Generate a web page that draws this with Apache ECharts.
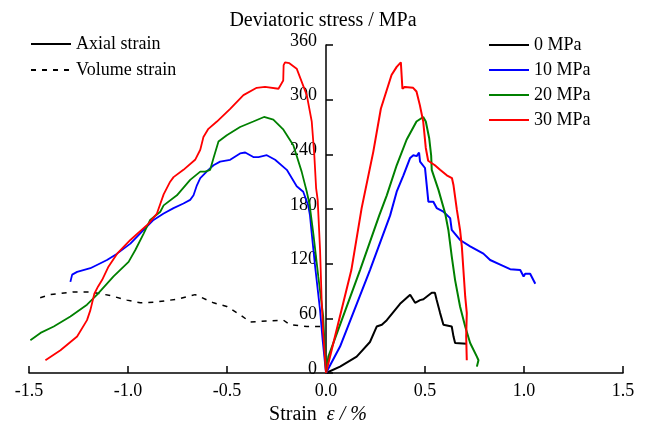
<!DOCTYPE html>
<html>
<head>
<meta charset="utf-8">
<script src="https://cdn.jsdelivr.net/npm/echarts@6/dist/echarts.min.js"></script>
<style>
  html, body { margin: 0; padding: 0; background: #fff; }
  #chart { width: 646px; height: 425px; }
</style>
</head>
<body>
<div id="chart"></div>
<script>
var FONT = "'Liberation Serif', 'Times New Roman', serif";

var pressures = ["0 MPa", "10 MPa", "20 MPa", "30 MPa"];
var colors = ["#000000", "#0000ff", "#008000", "#ff0000"];
var strainKinds = ["Axial strain", "Volume strain"];

// axial strain branch (positive x), [strain %, stress MPa]
var axial0 = [[0,0],[0.071,7],[0.155,18],[0.222,34],[0.256,51],[0.282,53],[0.307,58],[0.374,76],[0.425,86],[0.45,77],[0.475,80],[0.492,81],[0.534,88],[0.542,89],[0.55,88],[0.559,80],[0.576,66],[0.593,53],[0.635,51],[0.644,40],[0.652,33],[0.711,32]];
var axial10 = [[0,0],[0.071,29],[0.222,113],[0.324,173],[0.357,199],[0.391,217],[0.425,236],[0.441,239],[0.458,238],[0.47,242],[0.475,232],[0.5,225],[0.517,188],[0.542,188],[0.559,181],[0.593,177],[0.627,170],[0.635,157],[0.677,146],[0.728,139],[0.795,131],[0.829,124],[0.88,119],[0.93,114],[0.981,113],[0.998,106],[1.006,109],[1.031,109],[1.057,98]];
var axial20 = [[0,0],[0.012,18],[0.172,113],[0.269,173],[0.307,195],[0.357,228],[0.407,256],[0.457,276],[0.491,281],[0.504,276],[0.521,258],[0.531,239],[0.534,223],[0.568,201],[0.602,175],[0.618,157],[0.635,128],[0.652,102],[0.677,73],[0.703,51],[0.728,33],[0.762,18],[0.77,14],[0.762,7]];
var axial30 = [[0,0],[0.128,113],[0.18,181],[0.239,243],[0.277,290],[0.331,327],[0.357,336],[0.378,341],[0.384,341],[0.386,312],[0.398,314],[0.44,313],[0.457,309],[0.474,294],[0.491,276],[0.504,247],[0.516,233],[0.55,228],[0.576,223],[0.61,217],[0.636,214],[0.644,206],[0.661,179],[0.677,157],[0.686,139],[0.694,113],[0.703,84],[0.711,66],[0.708,40],[0.711,14]];

// volume strain branch (negative x)
var volume0 = [[-0.03,51],[-0.097,51],[-0.182,53],[-0.215,58],[-0.299,57],[-0.383,56],[-0.434,64],[-0.501,73],[-0.568,77],[-0.661,86],[-0.753,81],[-0.854,78],[-0.938,77],[-1.005,80],[-1.089,85],[-1.19,89],[-1.274,89],[-1.392,86],[-1.468,81]];
var volume10 = [[0,0],[-0.017,36],[-0.03,69],[-0.055,117],[-0.072,153],[-0.081,173],[-0.09,184],[-0.115,199],[-0.148,205],[-0.198,223],[-0.257,234],[-0.299,239],[-0.341,237],[-0.367,237],[-0.408,242],[-0.434,241],[-0.484,234],[-0.535,232],[-0.568,228],[-0.594,223],[-0.635,214],[-0.652,206],[-0.669,195],[-0.686,190],[-0.72,186],[-0.77,181],[-0.82,175],[-0.871,168],[-0.921,157],[-0.988,142],[-1.055,131],[-1.106,124],[-1.19,115],[-1.257,111],[-1.282,108],[-1.291,100]];
var volume20 = [[0,0],[-0.014,62],[-0.039,106],[-0.064,153],[-0.083,185],[-0.097,199],[-0.123,221],[-0.165,250],[-0.215,267],[-0.266,278],[-0.313,281],[-0.367,276],[-0.434,270],[-0.501,261],[-0.543,254],[-0.568,236],[-0.585,223],[-0.61,221],[-0.635,221],[-0.686,212],[-0.753,195],[-0.82,184],[-0.837,177],[-0.888,168],[-0.921,153],[-0.963,135],[-0.997,122],[-1.073,106],[-1.156,86],[-1.207,75],[-1.291,62],[-1.375,51],[-1.442,44],[-1.493,36]];
var volume30 = [[0,0],[-0.014,44],[-0.022,80],[-0.03,135],[-0.042,190],[-0.05,203],[-0.059,239],[-0.072,276],[-0.097,305],[-0.148,334],[-0.185,340],[-0.207,341],[-0.214,338],[-0.216,321],[-0.24,312],[-0.308,314],[-0.35,313],[-0.417,305],[-0.484,290],[-0.551,276],[-0.594,268],[-0.619,259],[-0.635,245],[-0.661,234],[-0.72,223],[-0.77,215],[-0.787,210],[-0.82,196],[-0.854,175],[-0.896,164],[-0.988,146],[-1.055,131],[-1.098,117],[-1.131,102],[-1.151,95],[-1.17,87],[-1.19,69],[-1.207,58],[-1.257,40],[-1.341,25],[-1.417,14]];

var axialData = [axial0, axial10, axial20, axial30];
var volumeData = [volume0, volume10, volume20, volume30];

var DASH = [5, 6];
var GRID_LEFT = 29, GRID_RIGHT = 23;
var X_MIN = -1.5, X_MAX = 1.5;

var series = [];
for (var i = 0; i < pressures.length; i++) {
    series.push({
        name: pressures[i],
        type: "line",
        symbol: "none",
        data: axialData[i],
        lineStyle: {color: colors[i], width: 2},
        itemStyle: {color: colors[i]}
    });
}
for (var i = 0; i < pressures.length; i++) {
    series.push({
        name: pressures[i],
        type: "line",
        symbol: "none",
        data: volumeData[i],
        lineStyle: {color: colors[i], width: i == 0 ? 1.5 : 1.8, type: i == 0 ? DASH : "solid"},
        itemStyle: {color: colors[i]}
    });
}
// legend-only entries for the line styles
series.push({
    name: strainKinds[0], type: "line", symbol: "none", data: [],
    lineStyle: {color: "#000", width: 2}, itemStyle: {color: "#000"}
});
series.push({
    name: strainKinds[1], type: "line", symbol: "none", data: [],
    lineStyle: {color: "#000", width: 1.5, type: DASH}, itemStyle: {color: "#000"}
});

var legendText = {fontFamily: FONT, fontSize: 18, color: "#000", lineHeight: 18};
// hide the little circle the line legend icon draws
var noSymbol = {color: "rgba(0,0,0,0)", borderColor: "rgba(0,0,0,0)", borderWidth: 0};

// y axis sits on x = 0: shift it from the grid's left edge
var chartWidth = 646;
var plotWidth = chartWidth - GRID_LEFT - GRID_RIGHT;
var yAxisShift = -plotWidth * (0 - X_MIN) / (X_MAX - X_MIN);

var option = {
    animation: false,
    backgroundColor: "#fff",
    title: {
        text: "Deviatoric stress / MPa",
        left: "center",
        top: 6,
        textStyle: {fontFamily: FONT, fontSize: 20, fontWeight: "normal", color: "#000"}
    },
    legend: [
        {
            data: strainKinds,
            orient: "vertical",
            left: 30,
            top: 35,
            padding: 0,
            itemWidth: 40,
            itemHeight: 14,
            itemGap: 8,
            selectedMode: false,
            itemStyle: noSymbol,
            textStyle: legendText
        },
        {
            data: pressures,
            orient: "vertical",
            left: 488,
            top: 36,
            padding: 0,
            itemWidth: 40,
            itemHeight: 14,
            itemGap: 7,
            selectedMode: false,
            itemStyle: noSymbol,
            textStyle: legendText
        }
    ],
    grid: {left: GRID_LEFT, right: GRID_RIGHT, top: 45, bottom: 52, containLabel: false, outerBoundsMode: "none"},
    xAxis: {
        type: "value",
        min: X_MIN,
        max: X_MAX,
        interval: 0.5,
        name: "Strain  {e|ε / %}",
        nameLocation: "middle",
        nameGap: 28,
        nameTextStyle: {
            fontFamily: FONT, fontSize: 20, color: "#000", padding: [0, 16, 0, 0],
            rich: {e: {fontFamily: FONT, fontSize: 20, fontStyle: "italic", color: "#000"}}
        },
        axisLine: {onZero: false, lineStyle: {color: "#000", width: 1.5}},
        axisTick: {inside: true, length: 7, lineStyle: {color: "#000", width: 1.5}},
        axisLabel: {
            margin: 9, fontFamily: FONT, fontSize: 18, color: "#000",
            formatter: function (v) { return v.toFixed(1); }
        },
        splitLine: {show: false}
    },
    yAxis: {
        type: "value",
        min: 0,
        max: 360,
        interval: 60,
        offset: yAxisShift,
        axisLine: {show: true, onZero: false, lineStyle: {color: "#000", width: 1.5}},
        axisTick: {show: true, inside: true, length: 7, lineStyle: {color: "#000", width: 1.5}},
        axisLabel: {
            margin: 9, color: "#000",
            formatter: function (v) { return "{v|" + v + "}"; },
            rich: {v: {fontFamily: FONT, fontSize: 18, color: "#000", padding: [0, 0, 8, 0]}}
        },
        splitLine: {show: false}
    },
    series: series
};

var chart = echarts.init(document.getElementById("chart"));
chart.setOption(option);
</script>
</body>
</html>
